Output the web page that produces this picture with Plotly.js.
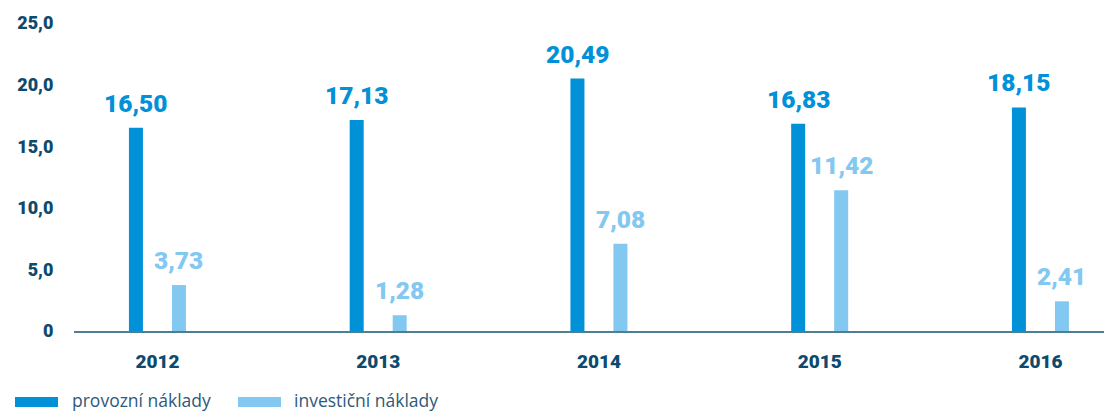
<!DOCTYPE html>
<html>
<head>
<meta charset="utf-8">
<script src="https://cdn.plot.ly/plotly-3.0.1.min.js"></script>
<style>
html,body{margin:0;padding:0;background:#fff;}
#chart{width:1104px;height:412px;}
</style>
</head>
<body>
<div id="chart"></div>
<script>
const years = ['2012', '2013', '2014', '2015', '2016'];
const provozni = [16.50, 17.13, 20.49, 16.83, 18.15];
const investicni = [3.73, 1.28, 7.08, 11.42, 2.41];
const seriesNames = ['provozní náklady', 'investiční náklady'];
const yTickVals = [0, 5, 10, 15, 20, 25];
const yTickText = ['0', '5,0', '10,0', '15,0', '20,0', '25,0'];

const darkColor = '#0091d8';
const lightColor = '#82c8f0';
const navy = '#0e4a6e';

const fmt = v => v.toFixed(2).replace('.', ',');

const traces = [
  {type: 'bar', x: years, y: provozni, name: seriesNames[0], marker: {color: darkColor}, hoverinfo: 'none'},
  {type: 'bar', x: years, y: investicni, name: seriesNames[1], marker: {color: lightColor}, hoverinfo: 'none'}
];

const annotations = [];
years.forEach((yr, i) => {
  annotations.push({x: i, y: provozni[i], text: fmt(provozni[i]), showarrow: false,
    xshift: -21.5, yshift: 9, yanchor: 'bottom', xanchor: 'center', borderpad: 0,
    font: {family: 'Roboto, sans-serif', size: 24.5, color: darkColor, weight: 900}});
  annotations.push({x: i, y: investicni[i], text: fmt(investicni[i]), showarrow: false,
    xshift: 21.5, yshift: 9, yanchor: 'bottom', xanchor: 'center', borderpad: 0,
    font: {family: 'Roboto, sans-serif', size: 24.5, color: lightColor, weight: 900}});
});

// custom legend
const plotL = 74, plotW = 1030, plotB = 330.7, plotH = 308;
const px = p => (p - plotL) / plotW;
const py = p => (plotB - p) / plotH;
const shapes = [
  {type: 'rect', xref: 'paper', yref: 'paper', x0: px(15), x1: px(58), y0: py(406.7), y1: py(396.7), fillcolor: darkColor, line: {width: 0}},
  {type: 'rect', xref: 'paper', yref: 'paper', x0: px(238), x1: px(281), y0: py(406.7), y1: py(396.7), fillcolor: lightColor, line: {width: 0}}
];
annotations.push({xref: 'paper', yref: 'paper', x: px(71), y: py(399.5), text: seriesNames[0], showarrow: false,
  xanchor: 'left', yanchor: 'middle', borderpad: 0, font: {family: 'Open Sans, sans-serif', size: 17.5, color: '#2c5a7a'}});
annotations.push({xref: 'paper', yref: 'paper', x: px(293), y: py(399.5), text: seriesNames[1], showarrow: false,
  xanchor: 'left', yanchor: 'middle', borderpad: 0, font: {family: 'Open Sans, sans-serif', size: 17.5, color: '#2c5a7a'}});

const layout = {
  width: 1104, height: 412,
  margin: {l: 74, r: 0, t: 22.7, b: 81.3},
  paper_bgcolor: '#fff', plot_bgcolor: '#fff',
  showlegend: false,
  barmode: 'group',
  bargap: 0.6104,
  bargroupgap: 0.6745,
  xaxis: {
    type: 'category', range: [-0.378, 4.288],
    showline: true, linecolor: '#4f7d96', linewidth: 2,
    showgrid: false, zeroline: false,
    ticks: 'outside', ticklen: 12, tickcolor: 'rgba(0,0,0,0)',
    tickfont: {family: 'Roboto, sans-serif', size: 19, color: navy, weight: 900},
    fixedrange: true
  },
  yaxis: {
    range: [0, 25],
    tickvals: yTickVals, ticktext: yTickText,
    showgrid: false, zeroline: false, showline: false,
    ticks: 'outside', ticklen: 16, tickcolor: 'rgba(0,0,0,0)',
    tickfont: {family: 'Roboto, sans-serif', size: 18, color: navy, weight: 900},
    fixedrange: true
  },
  annotations: annotations,
  shapes: shapes
};

Plotly.newPlot('chart', traces, layout, {displayModeBar: false, staticPlot: true});
</script>
</body>
</html>
